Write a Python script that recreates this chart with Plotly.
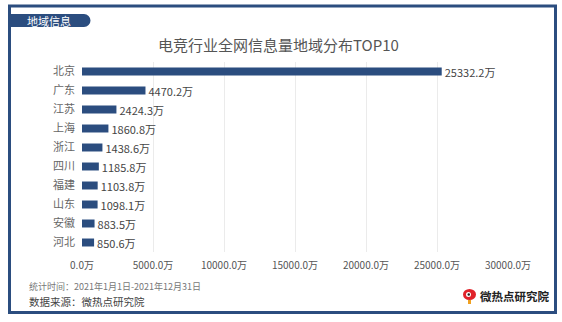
import plotly.graph_objects as go

regions = ["北京", "广东", "江苏", "上海", "浙江", "四川", "福建", "山东", "安徽", "河北"]
values = [25332.2, 4470.2, 2424.3, 1860.8, 1438.6, 1185.8, 1103.8, 1098.1, 883.5, 850.6]
tick_vals = [0, 5000, 10000, 15000, 20000, 25000, 30000]
tick_text = ["0.0万", "5000.0万", "10000.0万", "15000.0万", "20000.0万", "25000.0万", "30000.0万"]

W, H = 562, 322
L, R, T, B = 82, 54, 62, 70
PW, PH = W - L - R, H - T - B
FONT = "Noto Sans CJK SC"
BLUE = "#2b4d7f"


def px(x):
    return (x - L) / PW


def py(y):
    return (H - B - y) / PH


fig = go.Figure(go.Bar(
    x=values, y=regions, orientation="h",
    marker=dict(color=BLUE, line=dict(width=0)),
    text=[f"{v:.1f}万" for v in values], textposition="outside",
    textfont=dict(family=FONT, size=11, color="#444"),
    constraintext="none", cliponaxis=False,
))

shapes = [
    dict(type="rect", xref="paper", yref="paper", x0=px(9.5), x1=px(555.5), y0=py(6), y1=py(312.5),
         line=dict(color=BLUE, width=3), layer="below"),
    dict(type="rect", xref="paper", yref="paper", x0=px(9), x1=px(84), y0=py(14), y1=py(27),
         fillcolor=BLUE, line=dict(width=0)),
    dict(type="circle", xref="paper", yref="paper", x0=px(77.5), x1=px(90.5), y0=py(14), y1=py(27),
         fillcolor=BLUE, line=dict(width=0)),
    # logo icon
    dict(type="circle", xref="paper", yref="paper", x0=px(463), x1=px(476), y0=py(289), y1=py(300),
         fillcolor="#e0222a", line=dict(width=0)),
    dict(type="circle", xref="paper", yref="paper", x0=px(466), x1=px(471), y0=py(292), y1=py(297),
         fillcolor="white", line=dict(width=0)),
    dict(type="circle", xref="paper", yref="paper", x0=px(467.5), x1=px(470), y0=py(293.3), y1=py(295.8),
         fillcolor="#222", line=dict(width=0)),
    dict(type="rect", xref="paper", yref="paper", x0=px(468), x1=px(471), y0=py(300), y1=py(304),
         fillcolor="#f0a020", line=dict(width=0)),
]

annotations = [
    dict(text="地域信息", xref="paper", yref="paper", x=px(49), y=py(20.5), showarrow=False,
         font=dict(family=FONT, size=11, color="white"), xanchor="center", yanchor="middle"),
    dict(text="电竞行业全网信息量地域分布TOP10", xref="paper", yref="paper", x=px(278), y=py(45),
         showarrow=False, font=dict(family=FONT, size=15, color="#555"), xanchor="center", yanchor="middle"),
    dict(text="统计时间：2021年1月1日-2021年12月31日", xref="paper", yref="paper", x=px(27), y=py(286),
         showarrow=False, font=dict(family=FONT, size=9, color="#777"), xanchor="left", yanchor="middle"),
    dict(text="数据来源：微热点研究院", xref="paper", yref="paper", x=px(27), y=py(301),
         showarrow=False, font=dict(family=FONT, size=10.5, color="#444"), xanchor="left", yanchor="middle"),
    dict(text="<b>微热点研究院</b>", xref="paper", yref="paper", x=px(478), y=py(296),
         showarrow=False, font=dict(family=FONT, size=11.5, color="#222"), xanchor="left", yanchor="middle"),
]

fig.update_layout(
    width=W, height=H, margin=dict(l=L, r=R, t=T, b=B),
    paper_bgcolor="white", plot_bgcolor="white",
    showlegend=False, bargap=0.58,
    shapes=shapes, annotations=annotations,
    xaxis=dict(range=[0, 30000], tickvals=tick_vals, ticktext=tick_text, showgrid=True,
               gridcolor="#ebebeb", gridwidth=1, zeroline=False, showline=False, ticks="",
               tickfont=dict(family=FONT, size=10, color="#555"), ticklabelstandoff=6),
    yaxis=dict(autorange="reversed", showgrid=False, zeroline=False, showline=False, ticks="",
               tickfont=dict(family=FONT, size=11, color="#666"), ticklabelstandoff=6),
)

fig.write_html("out.html")
